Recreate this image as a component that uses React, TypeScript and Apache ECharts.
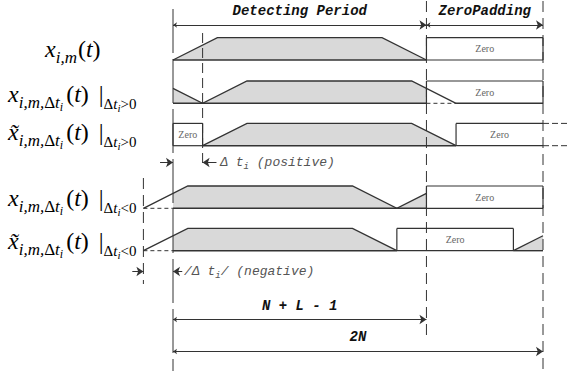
import React, { useEffect, useRef } from 'react';
import * as echarts from 'echarts';

// ---------------- data (time in samples, amplitude normalised 0..1) ----------------
const N = 100;
const L = 38;
const PERIOD = N + L - 1; // 137 : detecting period
const TWO_N = 2 * N; // 200
const DT_POS = 16;
const DT_NEG = 16;

const sigX = [[0, 0], [24, 1], [113, 1], [137, 0]];
const sigPosLine = [[0, 0.67], [16, 0], [40, 1], [129, 1], [153, 0]];
const sigPosFill = [[0, 0], [0, 0.67], [16, 0], [40, 1], [129, 1], [137, 0.67], [137, 0]];
const sigPosTilde = [[16, 0], [40, 1], [129, 1], [153, 0]];
const sigNegLine = [[-16, 0], [8, 1], [97, 1], [121, 0], [137, 0.67]];
const sigNegFill = [[0, 0], [0, 0.67], [8, 1], [97, 1], [121, 0], [137, 0.67], [137, 0]];
const sigNegTilde = [[-16, 0], [8, 1], [97, 1], [121, 0]];
const sigNegTildeFill = [[0, 0], [0, 0.67], [8, 1], [97, 1], [121, 0]];
const sigNegTildeTail = [[184, 0], [200, 0.67]];
const sigNegTildeTailFill = [[184, 0], [200, 0.67], [200, 0]];

// zero boxes: [row, t0, t1, sides]
const zeroBoxes: [number, number, number, string][] = [
  [0, 137, 200, 'tlbr'],
  [1, 137, 200, 'tlr'],
  [2, 0, 16, 'tlbr'],
  [2, 153, 200, 'tlb'],
  [3, 137, 200, 'tlbr'],
  [4, 121, 184, 'tlbr'],
];
// baselines: [row, t0, t1]
const solidBase: [number, number, number][] = [
  [0, 0, 137], [1, 0, 137], [1, 153, 200], [2, 16, 153], [3, 0, 137], [4, 0, 121], [4, 184, 200],
];
const dashedBase: [number, number, number][] = [[1, 137, 153], [3, -16, 0], [4, -16, 0]];

const titleTexts = ['Detecting Period', 'ZeroPadding', 'N + L - 1', '2N'];

// ---------------- layout ----------------
const W = 569;
const H = 376;
const T0_PX = 173;
const PX_PER_T = (543 - T0_PX) / TWO_N;
const X_MIN = -T0_PX / PX_PER_T;
const X_MAX = (W - T0_PX) / PX_PER_T;
const ROW_BASE = [60, 103.3, 145.7, 208.3, 250.7];
const ROW_H = 22.3;
const rowY = (row: number, a: number) => ROW_BASE[row] - a * ROW_H;

const INK = '#333';
const FILL = '#d9d9d9';
const GREY_TEXT = '#666';
const MONO = 'Liberation Mono';
const SERIF = 'Liberation Serif';

type Shape =
  | { kind: 'fill'; row: number; pts: number[][] }
  | { kind: 'line'; row: number; pts: number[][]; dash?: number[]; w?: number }
  | { kind: 'box'; row: number; t0: number; t1: number; sides: string }
  | { kind: 'vline'; t: number; y0: number; y1: number; dash: number[] | null }
  | { kind: 'text'; t: number; y: number; text: string; fstyle?: any; align?: string; rich?: any };

const shapes: Shape[] = [];
// fills first
shapes.push({ kind: 'fill', row: 0, pts: sigX });
shapes.push({ kind: 'fill', row: 1, pts: sigPosFill });
shapes.push({ kind: 'fill', row: 2, pts: sigPosTilde });
shapes.push({ kind: 'fill', row: 3, pts: sigNegFill });
shapes.push({ kind: 'fill', row: 4, pts: sigNegTildeFill });
shapes.push({ kind: 'fill', row: 4, pts: sigNegTildeTailFill });
// baselines
solidBase.forEach(([row, a, b]) => shapes.push({ kind: 'line', row, pts: [[a, 0], [b, 0]], w: 1.4 }));
dashedBase.forEach(([row, a, b]) => shapes.push({ kind: 'line', row, pts: [[a, 0], [b, 0]], dash: [4, 3], w: 1 }));
shapes.push({ kind: 'line', row: 2, pts: [[TWO_N, 1], [X_MAX, 1]], dash: [6, 3], w: 1 });
shapes.push({ kind: 'line', row: 2, pts: [[TWO_N, 0], [X_MAX, 0]], dash: [6, 3], w: 1 });
// signal outlines
shapes.push({ kind: 'line', row: 0, pts: sigX });
shapes.push({ kind: 'line', row: 1, pts: sigPosLine });
shapes.push({ kind: 'line', row: 2, pts: sigPosTilde });
shapes.push({ kind: 'line', row: 3, pts: sigNegLine });
shapes.push({ kind: 'line', row: 4, pts: sigNegTilde });
shapes.push({ kind: 'line', row: 4, pts: sigNegTildeTail });
// zero boxes
zeroBoxes.forEach(([row, t0, t1, sides]) => shapes.push({ kind: 'box', row, t0, t1, sides }));
// guide lines
shapes.push({ kind: 'vline', t: 0, y0: 9, y1: 371, dash: [44, 6] });
shapes.push({ kind: 'vline', t: DT_POS, y0: 33, y1: 167, dash: [10, 5] });
shapes.push({ kind: 'vline', t: PERIOD, y0: 1, y1: 336, dash: [11, 6] });
shapes.push({ kind: 'vline', t: TWO_N, y0: 1, y1: 372, dash: [11, 6] });
shapes.push({ kind: 'vline', t: -DT_NEG, y0: 178, y1: 284, dash: [11, 6] });
// texts
const titleStyle = { fontFamily: MONO, fontStyle: 'italic', fontWeight: 'bold', fontSize: 14, fill: '#111' };
shapes.push({ kind: 'text', t: PERIOD / 2, y: 11, text: titleTexts[0], fstyle: titleStyle });
shapes.push({ kind: 'text', t: (PERIOD + TWO_N) / 2, y: 11, text: titleTexts[1], fstyle: titleStyle });
shapes.push({ kind: 'text', t: PERIOD / 2, y: 305.5, text: titleTexts[2], fstyle: titleStyle });
shapes.push({ kind: 'text', t: N, y: 337, text: titleTexts[3], fstyle: titleStyle });
const annRich = {
  a: { fontFamily: MONO, fontStyle: 'italic', fontSize: 13, fill: '#555', color: '#555' },
  s: { fontFamily: MONO, fontStyle: 'italic', fontSize: 9, fill: '#555', color: '#555', padding: [8, 0, 0, 0] },
};
shapes.push({ kind: 'text', t: DT_POS + 9.5, y: 162.5, text: '{a|Δ t}{s|i}{a| (positive)}', align: 'left', rich: annRich });
shapes.push({ kind: 'text', t: 6, y: 271.5, text: '{a|/Δ t}{s|i}{a|/ (negative)}', align: 'left', rich: annRich });

const ARROW_Y = { top: 25, pos: 162.5, neg: 271.5, nl: 319.5, twoN: 351.5 };
const doubleArrows = [
  [[0, ARROW_Y.top], [PERIOD, ARROW_Y.top]],
  [[PERIOD, ARROW_Y.top], [TWO_N, ARROW_Y.top]],
  [[0, ARROW_Y.nl], [PERIOD, ARROW_Y.nl]],
  [[0, ARROW_Y.twoN], [TWO_N, ARROW_Y.twoN]],
];
const singleArrows = [
  [[-7, ARROW_Y.pos], [0, ARROW_Y.pos]],
  [[DT_POS + 7.5, ARROW_Y.pos], [DT_POS, ARROW_Y.pos]],
  [[-DT_NEG - 6, ARROW_Y.neg], [-DT_NEG, ARROW_Y.neg]],
  [[5, ARROW_Y.neg], [0, ARROW_Y.neg]],
];

function renderItem(params: any, api: any) {
  const s = shapes[params.dataIndex];
  const P = (t: number, y: number) => api.coord([t, y]);
  if (s.kind === 'fill') {
    return { type: 'polygon', silent: true, shape: { points: s.pts.map(([t, a]) => P(t, rowY(s.row, a))) }, style: { fill: FILL, stroke: 'none' } };
  }
  if (s.kind === 'line') {
    return {
      type: 'polyline', silent: true,
      shape: { points: s.pts.map(([t, a]) => P(t, rowY(s.row, a))) },
      style: { stroke: INK, lineWidth: s.w ?? 1.3, fill: 'none', lineDash: s.dash ?? null },
    };
  }
  if (s.kind === 'box') {
    const [x0, yTop] = P(s.t0, rowY(s.row, 1));
    const [x1, yBot] = P(s.t1, rowY(s.row, 0));
    const children: any[] = [];
    const seg = (a: number, b: number, c: number, d: number) =>
      children.push({ type: 'line', shape: { x1: a, y1: b, x2: c, y2: d }, style: { stroke: INK, lineWidth: 1.2 } });
    if (s.sides.includes('t')) seg(x0, yTop, x1, yTop);
    if (s.sides.includes('b')) seg(x0, yBot, x1, yBot);
    if (s.sides.includes('l')) seg(x0, yTop, x0, yBot);
    if (s.sides.includes('r')) seg(x1, yTop, x1, yBot);
    children.push({
      type: 'text', x: (x0 + x1) / 2, y: (yTop + yBot) / 2,
      style: { text: 'Zero', fontFamily: SERIF, fontSize: 10, fill: GREY_TEXT, align: 'center', verticalAlign: 'middle', textAlign: 'center', textVerticalAlign: 'middle' },
    });
    return { type: 'group', silent: true, children };
  }
  if (s.kind === 'vline') {
    const [x, y0] = P(s.t, s.y0);
    const [, y1] = P(s.t, s.y1);
    return { type: 'line', silent: true, shape: { x1: x, y1: y0, x2: x, y2: y1 }, style: { stroke: INK, lineWidth: 1, lineDash: s.dash } };
  }
  const [x, y] = P(s.t, s.y);
  const align = s.align ?? 'center';
  return {
    type: 'text', silent: true, x, y,
    style: {
      text: s.text, ...(s.fstyle || {}), rich: s.rich,
      align, verticalAlign: 'middle', textAlign: align, textVerticalAlign: 'middle',
    },
  };
}

// ---------------- left math labels ----------------
type Tok = { t: string; size: number; it?: boolean; dy?: number; gap?: number };
const MAIN = 24, SUB = 17, SUB2 = 15, SS = 12;
const subPart = (cmp: string): Tok[] => [
  { t: 'Δ', size: SUB2, dy: 7 }, { t: 't', size: SUB2, it: true, dy: 7 }, { t: 'i', size: SS - 1, it: true, dy: 10 }, { t: cmp, size: SUB2, dy: 7 },
];
const xShift = (x: string): Tok[] => [
  { t: x, size: MAIN, it: true },
  { t: 'i,m,', size: SUB, it: true, dy: 6 }, { t: 'Δ', size: SUB, dy: 6 }, { t: 't', size: SUB, it: true, dy: 6 },
  { t: 'i', size: SS, it: true, dy: 9, gap: 3 },
  { t: '(', size: MAIN }, { t: 't', size: MAIN, it: true }, { t: ')', size: MAIN, gap: 4 }, { t: ' |', size: MAIN },
];
const labels: { x: number; base: number; toks: Tok[] }[] = [
  { x: 45, base: 57, toks: [{ t: 'x', size: MAIN, it: true }, { t: 'i,m', size: SUB, it: true, dy: 6, gap: 1 }, { t: '(', size: MAIN }, { t: 't', size: MAIN, it: true }, { t: ')', size: MAIN }] },
  { x: 8, base: 102, toks: [...xShift('x'), ...subPart('>0')] },
  { x: 8, base: 140, toks: [...xShift('x\u0303'), ...subPart('>0')] },
  { x: 8, base: 206, toks: [...xShift('x'), ...subPart('<0')] },
  { x: 8, base: 249, toks: [...xShift('x\u0303'), ...subPart('<0')] },
];

function buildLabelElements() {
  const ctx = document.createElement('canvas').getContext('2d')!;
  const els: any[] = [];
  labels.forEach((lb) => {
    let cur = lb.x;
    lb.toks.forEach((tk) => {
      ctx.font = `${tk.it ? 'italic ' : ''}${tk.size}px "${SERIF}"`;
      const w = ctx.measureText(tk.t).width;
      els.push({
        type: 'text', x: cur, y: lb.base + (tk.dy ?? 0) - 0.34 * tk.size, silent: true,
        style: {
          text: tk.t, fontFamily: SERIF, fontSize: tk.size, fontStyle: tk.it ? 'italic' : 'normal', fill: '#000',
          align: 'left', verticalAlign: 'middle', textAlign: 'left', textVerticalAlign: 'middle',
        },
      });
      cur += w + (tk.gap ?? 0);
    });
  });
  return els;
}

export default function App() {
  const ref = useRef<HTMLDivElement>(null);
  useEffect(() => {
    document.body.style.margin = '0';
    const chart = echarts.init(ref.current!, null, { renderer: 'svg' });
    const arrowStyle = { color: INK, width: 1, opacity: 1, curveness: 0 };
    chart.setOption({
      animation: false,
      backgroundColor: '#fff',
      grid: { left: 0, right: 0, top: 0, bottom: 0 },
      xAxis: { type: 'value', min: X_MIN, max: X_MAX, show: false },
      yAxis: { type: 'value', min: 0, max: H, inverse: true, show: false },
      series: [
        { type: 'custom', coordinateSystem: 'cartesian2d', renderItem, data: shapes.map((_, i) => [i, 0]), silent: true, z: 2 },
        {
          type: 'lines', coordinateSystem: 'cartesian2d', silent: true, z: 3,
          symbol: ['arrow', 'arrow'], symbolSize: [4, 7], lineStyle: arrowStyle,
          data: doubleArrows.map((c) => ({ coords: c })),
        },
        {
          type: 'lines', coordinateSystem: 'cartesian2d', silent: true, z: 3,
          symbol: ['none', 'arrow'], symbolSize: [4, 7], lineStyle: arrowStyle,
          data: singleArrows.map((c) => ({ coords: c })),
        },
      ],
      graphic: { elements: buildLabelElements() },
    });
    return () => chart.dispose();
  }, []);
  return <div ref={ref} style={{ width: W, height: H }} />;
}
